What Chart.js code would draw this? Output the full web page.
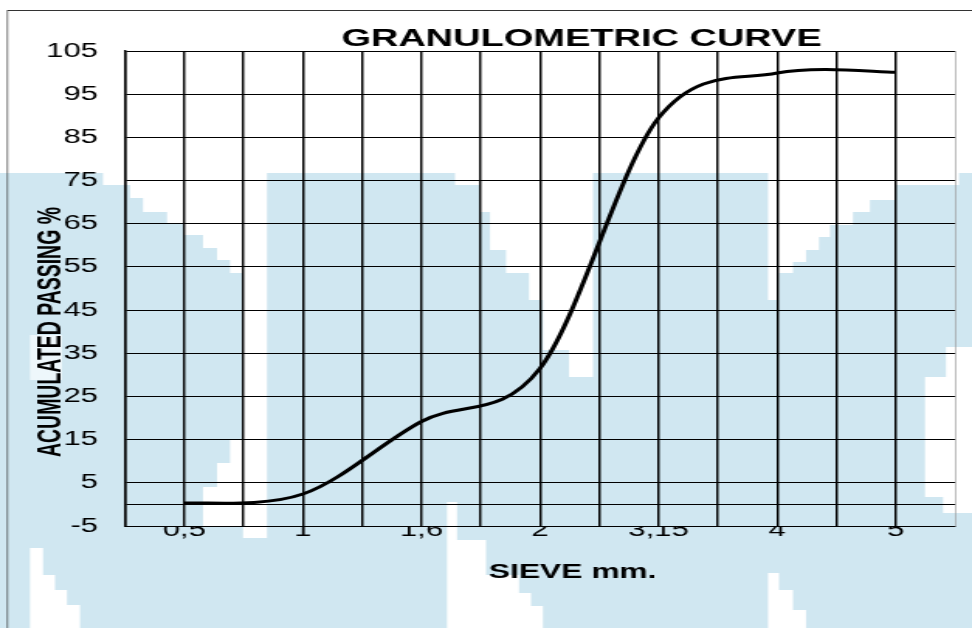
<!DOCTYPE html>
<html>
<head>
<meta charset="utf-8">
<title>Granulometric curve</title>
<script src="https://cdn.jsdelivr.net/npm/chart.js@4.4.1/dist/chart.umd.min.js"></script>
<style>
  html, body { margin: 0; padding: 0; background: #fff; overflow: hidden; }
  /* the source picture is a chart stretched sideways, so draw narrow and stretch */
  #wrap { width: 627px; height: 628px; transform: scaleX(1.550239); transform-origin: 0 0; }
</style>
</head>
<body>
<div id="wrap"><canvas id="curve" width="627" height="628"></canvas></div>
<script>
const sieveLabels = ['0,5', '1', '1,6', '2', '3,15', '4', '5'];
const passing = [0.3, 2.4, 19.2, 31.5, 89.5, 99.9, 100.1];
const yTickValues = [-5, 5, 15, 25, 35, 45, 55, 65, 75, 85, 95, 105];
const zeroLine = 0;

const STRETCH = 972 / 627;
const FONT = '"Liberation Sans", Arial, Helvetica, sans-serif';

// each sieve sits on an odd grid slot, with an unlabelled slot in between
const points = passing.map((v, i) => ({ x: 2 * i + 1, y: v }));
const gridSlots = Array.from({ length: 2 * sieveLabels.length + 1 }, (_, i) => i);
const lastSlot = gridSlots.length - 1;

// faint mosaic watermark behind the chart (page pixel coords), white gaps cut out of it
const watermarkGaps = [
  [[103,173],[267,173],[267,538],[243,538],[243,527],[203,527],[203,487],[217,487],[217,463],[230,463],[230,440],[243,440],[243,273],[230,273],[230,260],[217,260],[217,248],[203,248],[203,235],[183,235],[183,223],[167,223],[167,212],[143,212],[143,198],[130,198],[130,185],[103,185]],
  [[455,173],[593,173],[593,377],[569,377],[569,350],[543,350],[543,300],[529,300],[529,273],[506,273],[506,250],[490,250],[490,212],[480,212],[480,185],[455,185]],
  [[768,173],[959,173],[959,185],[896,185],[896,200],[870,200],[870,212],[853,212],[853,225],[830,225],[830,237],[819,237],[819,250],[806,250],[806,262],[793,262],[793,273],[779,273],[779,300],[768,300]],
  [[946,347],[972,347],[972,513],[943,513],[943,497],[925,497],[925,377],[946,377]],
  [[447,502],[457,502],[457,540],[486,540],[486,575],[519,575],[519,593],[531,593],[531,606],[543,606],[543,628],[447,628]],
  [[768,573],[779,573],[779,590],[793,590],[793,610],[806,610],[806,628],[768,628]],
  [[30,548],[43,548],[43,575],[55,575],[55,590],[67,590],[67,605],[80,605],[80,628],[30,628]]
];

const backdrop = {
  id: 'backdrop',
  beforeDraw(chart) {
    const ctx = chart.ctx;
    ctx.save();
    ctx.scale(1 / STRETCH, 1); // work in page pixels
    ctx.fillStyle = '#fff';
    ctx.fillRect(0, 0, 972, 628);
    ctx.fillStyle = '#d0e7f1';
    ctx.fillRect(0, 173, 972, 455);
    ctx.fillStyle = '#fff';
    watermarkGaps.forEach(poly => {
      ctx.beginPath();
      poly.forEach(([x, y], i) => (i ? ctx.lineTo(x, y) : ctx.moveTo(x, y)));
      ctx.closePath();
      ctx.fill();
    });
    ctx.fillStyle = '#eef7fb';
    ctx.fillRect(30, 335, 32, 45);
    // outer frame of the sheet
    ctx.strokeStyle = '#333';
    ctx.lineWidth = 1;
    ctx.strokeRect(7.5, 10.5, 2000, 2000);
    ctx.restore();
  }
};

// Excel style smoothing: uniform Catmull-Rom control points
const excelSmooth = {
  id: 'excelSmooth',
  beforeDatasetsDraw(chart) {
    chart.getSortedVisibleDatasetMetas().forEach(meta => {
      const pts = meta.data;
      const n = pts.length;
      pts.forEach((p, i) => {
        const prev = pts[Math.max(i - 1, 0)];
        const next = pts[Math.min(i + 1, n - 1)];
        const dx = (next.x - prev.x) / 6;
        const dy = (next.y - prev.y) / 6;
        p.cp1x = p.x - dx; p.cp1y = p.y - dy;
        p.cp2x = p.x + dx; p.cp2y = p.y + dy;
      });
      if (meta.dataset) {
        meta.dataset._pointsUpdated = true;
        meta.dataset._path = undefined;
      }
    });
  }
};

const captions = {
  id: 'captions',
  afterDraw(chart) {
    const ctx = chart.ctx;
    ctx.save();
    ctx.fillStyle = '#000';
    ctx.textAlign = 'center';
    ctx.textBaseline = 'alphabetic';
    ctx.font = 'bold 24.5px ' + FONT;
    ctx.fillText('GRANULOMETRIC CURVE', 581.5 / STRETCH, 45.7);
    ctx.font = 'bold 20.5px ' + FONT;
    ctx.fillText('SIEVE mm.', 572.7 / STRETCH, 578.3);

    // y title is squeezed along its length in the source
    const label = 'ACUMULATED PASSING %';
    ctx.font = 'bold 22.5px ' + FONT;
    const w = ctx.measureText(label).width;
    ctx.translate(60 / STRETCH, 332);
    ctx.rotate(-Math.PI / 2);
    ctx.scale(250 / w, 1);
    ctx.fillText(label, 0, 0);
    ctx.restore();
  }
};

new Chart(document.getElementById('curve'), {
  type: 'line',
  data: {
    datasets: [{
      data: points,
      borderColor: '#000',
      borderWidth: 3,
      pointRadius: 0,
      tension: 0.3,
      fill: false
    }]
  },
  options: {
    responsive: false,
    animation: false,
    events: [],
    layout: { padding: { left: 0, right: 627 - 955 / STRETCH, top: 51, bottom: 0 } },
    plugins: {
      legend: { display: false },
      tooltip: { enabled: false }
    },
    scales: {
      x: {
        type: 'linear',
        min: 0,
        max: lastSlot,
        afterBuildTicks: s => { s.ticks = gridSlots.map(v => ({ value: v })); },
        afterFit: s => { s.height = 102; },
        grid: {
          color: c => (c.tick && c.tick.value === lastSlot ? '#9b9b9b' : '#000'),
          lineWidth: c => (c.tick && c.tick.value === lastSlot ? 0.7 : 1.45),
          drawTicks: false
        },
        border: { color: '#000', width: 1 },
        ticks: {
          autoSkip: false,
          maxRotation: 0,
          padding: -8,
          color: '#000',
          font: { family: FONT, size: 20 },
          callback: v => (v % 2 === 1 ? sieveLabels[(v - 1) / 2] : '')
        }
      },
      y: {
        min: -5,
        max: 105,
        afterBuildTicks: s => {
          s.ticks = [...yTickValues, zeroLine].sort((a, b) => a - b).map(v => ({ value: v }));
        },
        afterFit: s => { s.width = 125 / STRETCH; },
        grid: { color: '#000', lineWidth: 1, drawTicks: false },
        border: { color: '#000', width: 1.45 },
        ticks: {
          padding: 17.4,
          color: '#000',
          font: { family: FONT, size: 20 },
          callback: v => (yTickValues.includes(v) ? String(v) : '')
        }
      }
    }
  },
  plugins: [backdrop, excelSmooth, captions]
});
</script>
</body>
</html>
